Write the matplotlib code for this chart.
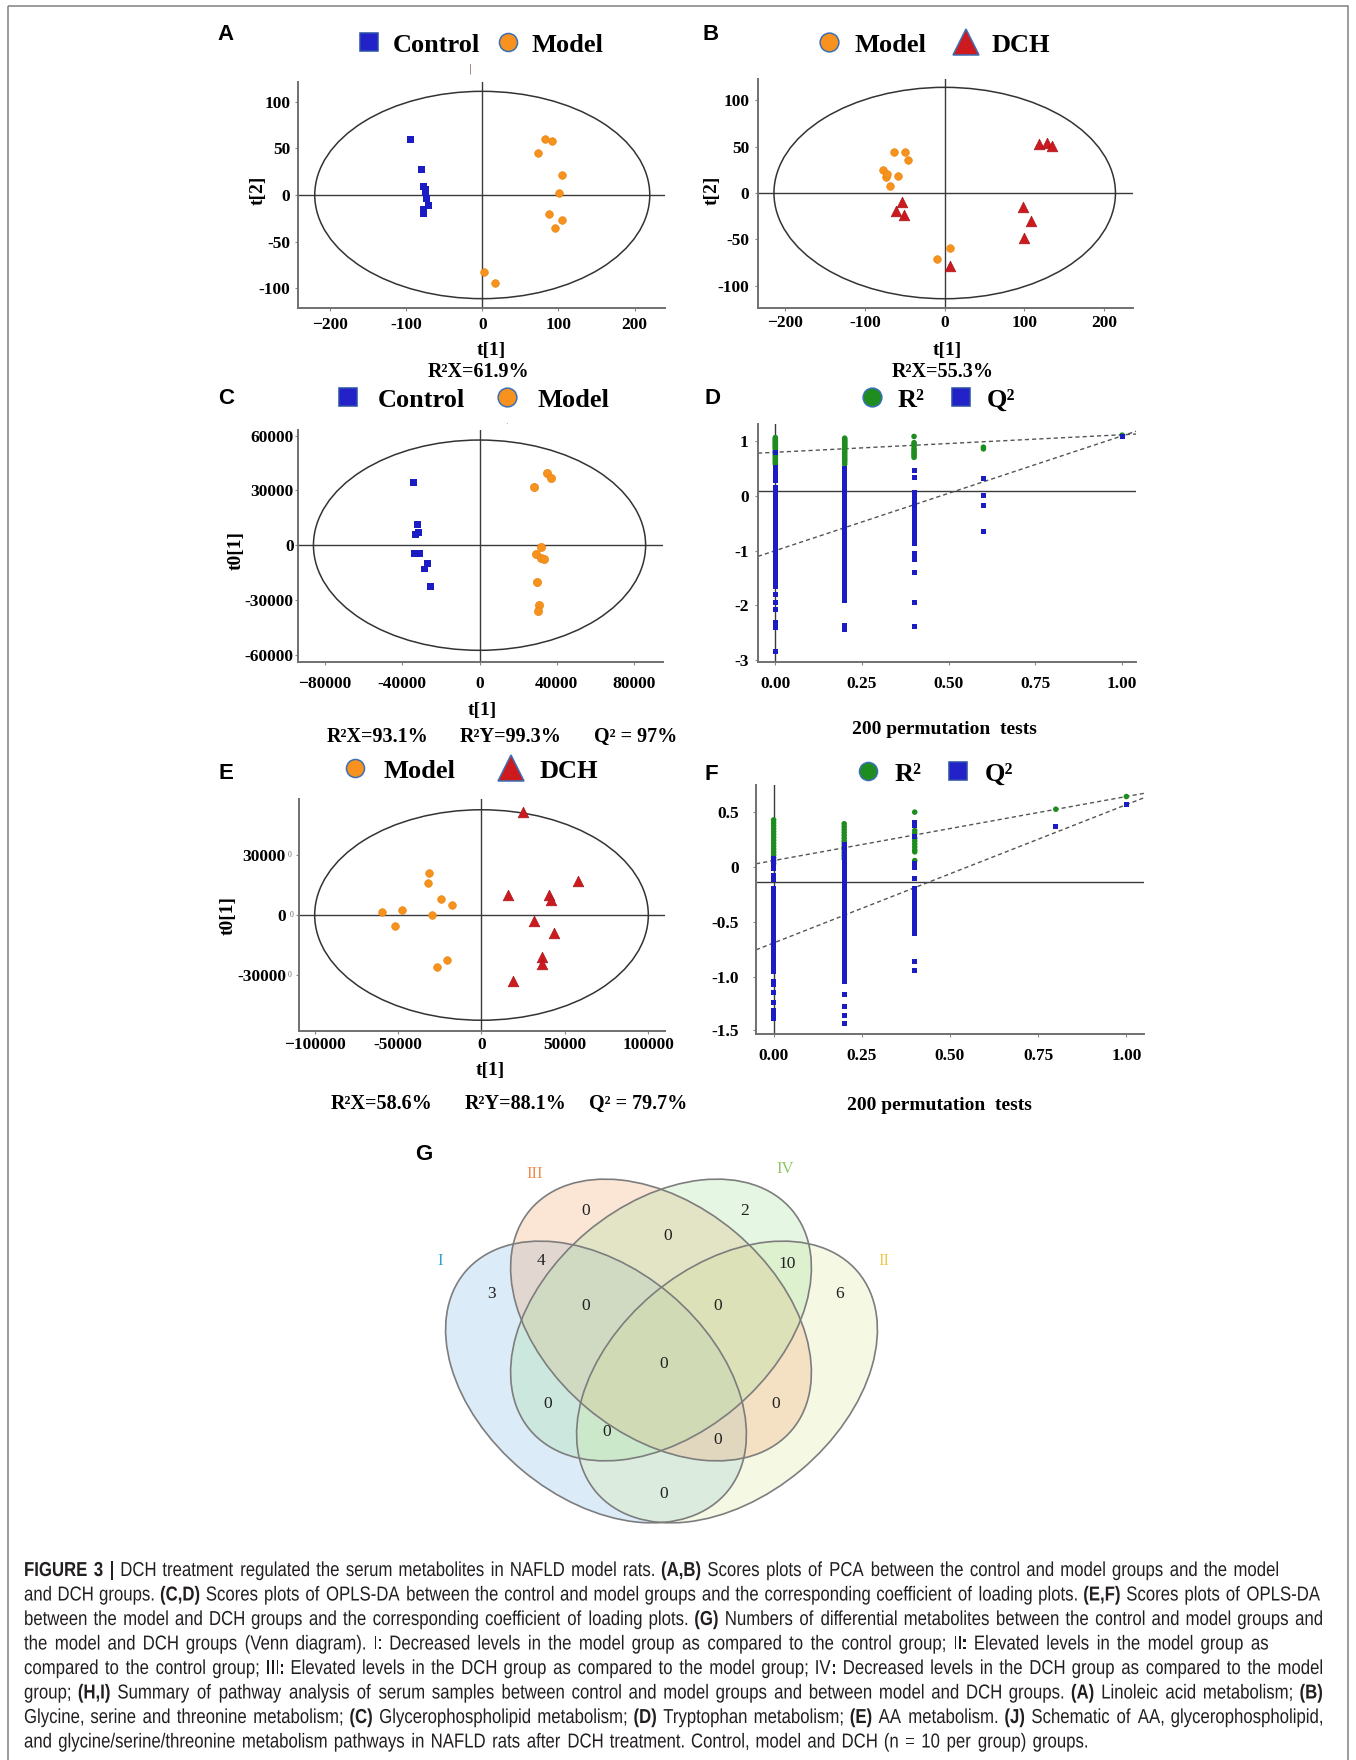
import matplotlib
matplotlib.use("Agg")
import matplotlib.pyplot as plt
from matplotlib.patches import Ellipse, Rectangle, PathPatch
from matplotlib.lines import Line2D
from matplotlib.textpath import TextPath
from matplotlib.font_manager import FontProperties
from matplotlib.transforms import Affine2D
import numpy as np

W, H = 1356, 1760
SERIF = "Liberation Serif"
SANS = "Liberation Sans"

BLUE = "#1c1cc4"
ORANGE = "#f7921e"
RED = "#cc1a1f"
GREEN = "#1e8c1e"

# ---------------- data ----------------
# (A) PCA, control vs model
a_ctrl_x = [-94, -80, -77, -75, -74, -73, -71, -77, -77, -75]
a_ctrl_y = [59, 27, 9, 6, 1, -4, -11, -15, -20, 3]
a_model_x = [82, 92, 73, 105, 101, 87, 105, 96, 2, 17]
a_model_y = [60, 58, 45, 21, 2.5, -20, -27, -35, -82, -94]

# (B) PCA, model vs DCH
b_model_x = [-64, -50, -46, -77, -74, -72, -59, -69, 7, -10]
b_model_y = [44, 44, 36, 25, 17, 20, 18, 8, -59, -71]
b_dch_x = [118, 128, 134, 98, 108, 100, -53, -61, -51, 7]
b_dch_y = [53, 54, 51, -15, -30, -49, -10, -19, -24, -79]

# (C) OPLS-DA, control vs model
c_ctrl_x = [-34400, -32200, -31500, -33200, -33500, -31000, -27000, -28700, -25300, -32300]
c_ctrl_y = [34400, 11500, 6800, 6000, -4600, -4600, -10000, -13000, -22700, -4600]
c_model_x = [34900, 37000, 28000, 31800, 29200, 31800, 33500, 29600, 30600, 30300]
c_model_y = [39300, 36800, 32000, -900, -4800, -7000, -7300, -20100, -32600, -35900]

# (E) OPLS-DA, model vs DCH
e_model_x = [-31400, -32000, -24200, -17600, -47400, -59800, -29400, -51600, -20600, -26600]
e_model_y = [21300, 16000, 7800, 5000, 2700, 1300, 200, -5300, -22700, -26000]
e_dch_x = [25000, 58000, 15600, 40400, 41400, 31600, 43200, 36000, 36000, 19000]
e_dch_y = [51800, 17300, 10200, 10200, 7700, -3200, -9000, -21000, -24700, -33200]

# Hotelling T2 ellipse half axes
a_ell = (220, 111)
b_ell = (214, 114)
c_ell = (86000, 57600)
e_ell = (100000, 52800)

# (D) permutation test, control vs model
d_cols = [0.0, 0.2, 0.4, 0.6, 1.0]
d_r2 = [
    [0.95, 0.93, 0.91, 0.89, 0.87, 0.85, 0.83, 0.81, 0.79, 0.77, 0.75, 0.72, 0.69, 0.66,
     0.63, 0.6, 0.57, 0.54, 0.51, 0.48],
    [0.94, 0.92, 0.9, 0.88, 0.86, 0.84, 0.82, 0.8, 0.78, 0.76, 0.73, 0.7, 0.67, 0.64,
     0.61, 0.58, 0.55, 0.52, 0.48],
    [0.97, 0.86, 0.83, 0.8, 0.75, 0.72, 0.69, 0.66, 0.63, 0.6],
    [0.78, 0.75],
    [0.993],
]
d_q2 = [
    [0.69, 0.42, 0.38, 0.34, 0.26, 0.22, 0.19, 0.06, 0.02, -0.03, -0.08, -0.13, -0.17, -0.22,
     -0.27, -0.31, -0.36, -0.41, -0.45, -0.5, -0.55, -0.6, -0.64, -0.69, -0.74, -0.78, -0.83,
     -0.88, -0.93, -0.97, -1.02, -1.07, -1.11, -1.16, -1.21, -1.25, -1.3, -1.35, -1.4, -1.44,
     -1.49, -1.54, -1.58, -1.63, -1.68, -1.83, -1.97, -2.09, -2.33, -2.37, -2.41, -2.83],
    [0.41, 0.37, 0.33, 0.28, 0.24, 0.19, 0.15, 0.1, 0.06, 0.01, -0.04, -0.09, -0.13, -0.18,
     -0.23, -0.27, -0.32, -0.37, -0.41, -0.46, -0.51, -0.55, -0.6, -0.65, -0.69, -0.74, -0.79,
     -0.83, -0.88, -0.93, -0.97, -1.02, -1.07, -1.11, -1.16, -1.21, -1.25, -1.3, -1.35, -1.39,
     -1.44, -1.49, -1.53, -1.58, -1.63, -1.67, -1.72, -1.77, -1.81, -1.86, -1.9, -1.93, -2.38, -2.44],
    [0.37, 0.25, -0.02, -0.06, -0.12, -0.19, -0.25, -0.3, -0.36, -0.41, -0.45, -0.5, -0.55,
     -0.61, -0.66, -0.71, -0.76, -0.82, -0.87, -0.93, -1.1, -1.15, -1.21, -1.43, -1.97, -2.4],
    [0.22, -0.08, -0.25, -0.71],
    [0.97],
]
d_r2_line = (0.69, 1.0)    # intercept, value at 1.0
d_q2_line = (-1.05, 0.98)

# (F) permutation test, model vs DCH
f_cols = [0.0, 0.2, 0.4, 0.8, 1.0]
f_r2 = [
    [0.64, 0.61, 0.58, 0.55, 0.52, 0.49, 0.46, 0.43, 0.4, 0.37, 0.34, 0.31, 0.28, 0.25, 0.22, 0.19],
    [0.6, 0.57, 0.54, 0.51, 0.48, 0.45, 0.42, 0.39, 0.36, 0.33, 0.3, 0.27, 0.24],
    [0.72, 0.53, 0.5, 0.45, 0.42, 0.39, 0.36, 0.33, 0.31, 0.22],
    [0.75],
    [0.881],
]
f_q2 = [
    [0.24, 0.21, 0.18, 0.14, 0.07, 0.04, 0.02, -0.07, -0.1, -0.13, -0.17, -0.2, -0.24, -0.27,
     -0.31, -0.34, -0.38, -0.41, -0.45, -0.48, -0.52, -0.55, -0.59, -0.62, -0.66, -0.69, -0.73,
     -0.76, -0.8, -0.83, -0.87, -0.9, -0.93, -1.03, -1.06, -1.14, -1.24, -1.33, -1.37, -1.41],
    [0.39, 0.36, 0.32, 0.29, 0.25, 0.22, 0.18, 0.15, 0.11, 0.08, 0.04, 0.01, -0.03, -0.06,
     -0.1, -0.13, -0.17, -0.2, -0.24, -0.27, -0.31, -0.34, -0.38, -0.41, -0.45, -0.48, -0.52,
     -0.55, -0.59, -0.62, -0.66, -0.69, -0.73, -0.76, -0.8, -0.83, -0.87, -0.9, -0.94, -0.97,
     -1.01, -1.03, -1.16, -1.29, -1.38, -1.46],
    [0.61, 0.58, 0.47, 0.19, 0.15, 0.03, -0.07, -0.11, -0.14, -0.18, -0.21, -0.25, -0.28,
     -0.31, -0.34, -0.38, -0.41, -0.45, -0.48, -0.53, -0.82, -0.91],
    [0.57],
    [0.797],
]
f_r2_line = (0.22, 0.881)
f_q2_line = (-0.63, 0.797)

# tick labels
pca_xt = [-200, -100, 0, 100, 200]
pca_xtl = ["\u2212200", "-100", "0", "100", "200"]
pca_yt = [100, 50, 0, -50, -100]
pca_ytl = ["100", "50", "0", "-50", "-100"]
c_xt = [-80000, -40000, 0, 40000, 80000]
c_xtl = ["\u221280000", "-40000", "0", "40000", "80000"]
c_yt = [60000, 30000, 0, -30000, -60000]
c_ytl = ["60000", "30000", "0", "-30000", "-60000"]
e_xt = [-100000, -50000, 0, 50000, 100000]
e_xtl = ["\u2212100000", "-50000", "0", "50000", "100000"]
e_yt = [30000, 0, -30000]
e_ytl = ["30000", "0", "-30000"]
perm_xt = [0, 0.25, 0.5, 0.75, 1.0]
perm_xtl = ["0.00", "0.25", "0.50", "0.75", "1.00"]
d_yt = [0.89, -0.08, -1.05, -2.02, -2.99]
d_ytl = ["1", "0", "-1", "-2", "-3"]
f_yt = [0.72, 0.155, -0.41, -0.98, -1.53]
f_ytl = ["0.5", "0", "-0.5", "-1.0", "-1.5"]

# (G) Venn diagram
venn_sets = ["I", "II", "III", "IV"]
venn_fill = ["#8ac0e8", "#deeba5", "#f2a976", "#aae4a2"]
venn_text_col = ["#29a3c9", "#f0c848", "#ef8a48", "#8cc665"]
venn_counts = [3, 4, 0, 0, 2, 10, 6, 0, 0, 0, 0, 0, 0, 0, 0]

# caption
cap_lines = [
    [("FIGURE 3 |", "b"), (" DCH treatment regulated the serum metabolites in NAFLD model rats. ", "n"),
     ("(A,B)", "b"), (" Scores plots of PCA between the control and model groups and the model", "n")],
    [("and DCH groups. ", "n"), ("(C,D)", "b"),
     (" Scores plots of OPLS-DA between the control and model groups and the corresponding coefficient of loading plots. ", "n"),
     ("(E,F)", "b"), (" Scores plots of OPLS-DA", "n")],
    [("between the model and DCH groups and the corresponding coefficient of loading plots. ", "n"),
     ("(G)", "b"), (" Numbers of differential metabolites between the control and model groups and", "n")],
    [("the model and DCH groups (Venn diagram). I: Decreased levels in the model group as compared to the control group; II", "n"),
     (":", "b"), (" Elevated levels in the model group as", "n")],
    [("compared to the control group; III", "n"), (":", "b"),
     (" Elevated levels in the DCH group as compared to the model group; IV", "n"), (":", "b"),
     (" Decreased levels in the DCH group as compared to the model", "n")],
    [("group; ", "n"), ("(H,I)", "b"),
     (" Summary of pathway analysis of serum samples between control and model groups and between model and DCH groups. ", "n"),
     ("(A)", "b"), (" Linoleic acid metabolism; ", "n"), ("(B)", "b")],
    [("Glycine, serine and threonine metabolism; ", "n"), ("(C)", "b"), (" Glycerophospholipid metabolism; ", "n"),
     ("(D)", "b"), (" Tryptophan metabolism; ", "n"), ("(E)", "b"), (" AA metabolism. ", "n"), ("(J)", "b"),
     (" Schematic of AA, glycerophospholipid,", "n")],
    [("and glycine/serine/threonine metabolism pathways in NAFLD rats after DCH treatment. Control, model and DCH (n = 10 per group) groups.", "n")],
]
cap_right = [1278, 1320, 1322, 1268, 1322, 1322, 1322, 1087]


# ---------------- helpers ----------------
def box(l, t, r, b):
    return [l / W, 1 - b / H, (r - l) / W, (b - t) / H]


def fx(x):
    return x / W


def fy(y):
    return 1 - y / H


def frame(ax, xt, xtl, yt, ytl, xpad, ypad):
    for s in ("top", "right"):
        ax.spines[s].set_visible(False)
    for s in ("left", "bottom"):
        ax.spines[s].set_color("#707070")
        ax.spines[s].set_linewidth(1.4)
    tk = dict(fontfamily=SERIF, fontweight="bold", fontsize=12.5)
    ax.set_xticks(xt, xtl, **tk)
    ax.set_yticks(yt, ytl, **tk)
    ax.tick_params(axis="both", length=2.5, width=0.8, color="#888888")
    ax.tick_params(axis="x", pad=xpad)
    ax.tick_params(axis="y", pad=ypad)


def score_panel(rect, xlim, ylim, ell, xt, xtl, yt, ytl, xpad, ypad):
    ax = fig.add_axes(box(*rect))
    ax.set_xlim(xlim)
    ax.set_ylim(ylim)
    ax.axhline(0, color="#3a3a3a", lw=1.0, zorder=1)
    ax.axvline(0, color="#3a3a3a", lw=1.0, zorder=1)
    ax.add_patch(Ellipse((0, 0), 2 * ell[0], 2 * ell[1], fill=False, ec="#333333", lw=1.1, zorder=1))
    frame(ax, xt, xtl, yt, ytl, xpad, ypad)
    return ax


def perm_panel(rect, xlim, ylim, cols, r2, q2, r2_line, q2_line, yt, ytl, xpad, ypad):
    ax = fig.add_axes(box(*rect))
    ax.set_xlim(xlim)
    ax.set_ylim(ylim)
    ax.axhline(0, color="#3a3a3a", lw=1.0, zorder=1)
    ax.axvline(0, color="#3a3a3a", lw=1.0, zorder=1)
    xs = np.array(xlim)
    for b0, b1 in (r2_line, q2_line):
        ax.plot(xs, b0 + (b1 - b0) * xs, ls=(0, (3, 2.2)), color="#555555", lw=1.0, zorder=2)
    for x, vals in zip(cols, r2):
        ax.scatter([x] * len(vals), vals, s=16, marker="o", c=GREEN, ec="none", zorder=3)
    for x, vals in zip(cols, q2):
        ax.scatter([x] * len(vals), vals, s=13, marker="s", c=BLUE, ec="none", zorder=4)
    frame(ax, perm_xt, perm_xtl, yt, ytl, xpad, ypad)
    return ax


def legend(ax, items, cx, cy, colsp, tpad):
    handles = [Line2D([], [], ls="none", marker=m, ms=ms, mfc=c, mec=ec, mew=1.1)
               for m, ms, c, ec, lab in items]
    ax.legend(handles, [it[-1] for it in items], loc="center",
              bbox_to_anchor=(fx(cx), fy(cy)), bbox_transform=fig.transFigure,
              ncol=len(items), frameon=False, handlelength=1.0, handletextpad=tpad,
              columnspacing=colsp, borderpad=0, borderaxespad=0,
              prop=dict(family=SERIF, weight="bold", size=19))


def label(x, y, s, size=14, rot=0, **kw):
    fig.text(fx(x), fy(y), s, ha="center", va="center", rotation=rot,
             fontfamily=SERIF, fontweight="bold", fontsize=size, **kw)


def letter(x, y, s):
    fig.text(fx(x), fy(y), s, ha="center", va="center", fontfamily=SANS,
             fontweight="bold", fontsize=16)


def tokenize(segs):
    words = [[]]
    for txt, st in segs:
        for i, part in enumerate(txt.split(" ")):
            if i > 0:
                words.append([])
            if part:
                words[-1].append((part, st))
    return [w for w in words if w]


# caption drawn as horizontally squeezed glyph outlines (condensed face)
CAP_EM = 20.2
CAP_SX = 0.83
cap_props = {"n": FontProperties(family=SANS), "b": FontProperties(family=SANS, weight="bold")}


def caption_line(segs, x0, x1, y):
    rows = []
    for w in tokenize(segs):
        row = []
        for txt, st in w:
            p = TextPath((0, 0), txt, size=CAP_EM, prop=cap_props[st])
            e = p.get_extents()
            row.append((p, e.x0 + e.width))
        rows.append(row)
    raw = [sum(adv for _, adv in row) + 1.0 * (len(row) - 1) for row in rows]
    sx = CAP_SX
    natural = sum(raw) * sx + 0.22 * CAP_EM * sx * (len(rows) - 1)
    if natural > x1 - x0:
        sx = sx * (x1 - x0) / natural
    gap = (x1 - x0 - sum(raw) * sx) / max(len(rows) - 1, 1)
    x = x0
    for row, rw in zip(rows, raw):
        xx = x
        for p, adv in row:
            tr = Affine2D().scale(sx, -1).translate(xx, y) + over.transData
            over.add_patch(PathPatch(p, transform=tr, fc="#231f20", ec="none", lw=0))
            xx += (adv + 1.0) * sx
        x += rw * sx + gap


# ---------------- figure ----------------
fig = plt.figure(figsize=(W / 100, H / 100), dpi=100)

over = fig.add_axes([0, 0, 1, 1])
over.set_xlim(0, W)
over.set_ylim(H, 0)
over.axis("off")
over.add_patch(Rectangle((8, 6), W - 16, H + 20, fill=False, ec="#8a8a8a", lw=1.2))

# ---- A ----
ax = score_panel((298, 82, 665, 308), (-242, 240), (-121, 121), a_ell,
                 pca_xt, pca_xtl, pca_yt, pca_ytl, 4, 3)
ax.scatter(a_ctrl_x, a_ctrl_y, s=24, marker="s", c=BLUE, ec="none", zorder=3)
ax.scatter(a_model_x, a_model_y, s=30, marker="o", c=ORANGE, ec="#e8860f", lw=0.5, zorder=3)
legend(ax, [("s", 12.5, "#2222c8", "#2a4fa8", "Control"), ("o", 13, ORANGE, "#3b6fb6", "Model")],
       480, 45, 0.55, 0.4)
letter(226, 35, "A")
label(491, 350, "t[1]")
label(479, 372, "R\u00b2X=61.9%", 14.5)
label(258, 190, "t[2]", rot=90)
fig.text(fx(470), fy(69), "|", ha="center", va="center", fontsize=7, color="#8a6a60")

# ---- B ----
ax = score_panel((758, 79, 1133, 308), (-234, 236), (-124, 123), b_ell,
                 pca_xt, pca_xtl, pca_yt, pca_ytl, 2.6, 3.8)
ax.scatter(b_model_x, b_model_y, s=30, marker="o", c=ORANGE, ec="#e8860f", lw=0.5, zorder=3)
ax.scatter(b_dch_x, b_dch_y, s=58, marker="^", c=RED, ec="#a81418", lw=0.5, zorder=3)
legend(ax, [("o", 13.5, ORANGE, "#3b6fb6", "Model"), ("^", 19, RED, "#3b6fb6", "DCH")],
       933, 45, 1.0, 0.45)
letter(711, 34, "B")
label(947, 350, "t[1]")
label(943, 372, "R\u00b2X=55.3%", 14.5)
label(712, 190, "t[2]", rot=90)

# ---- C ----
ax = score_panel((298, 430, 663, 662), (-94000, 95000), (-64000, 63100), c_ell,
                 c_xt, c_xtl, c_yt, c_ytl, 7.6, 0.6)
ax.scatter(c_ctrl_x, c_ctrl_y, s=24, marker="s", c=BLUE, ec="none", zorder=3)
ax.scatter(c_model_x, c_model_y, s=34, marker="o", c=ORANGE, ec="#e8860f", lw=0.5, zorder=3)
legend(ax, [("s", 12.5, "#2222c8", "#2a4fa8", "Control"), ("o", 13.5, ORANGE, "#3b6fb6", "Model")],
       472, 400, 1.1, 0.65)
letter(226, 399, "C")
label(482, 710, "t[1]")
label(236, 550, "t0[1]", rot=90)
label(378, 737, "R\u00b2X=93.1%", 14.5)
label(511, 737, "R\u00b2Y=99.3%", 14.5)
label(636, 737, "Q\u00b2 = 97%", 14.5)
fig.text(fx(506), fy(421), ".", ha="center", va="center", fontsize=6, color="#777777")

# ---- D ----
ax = perm_panel((758, 424, 1136, 662), (-0.05, 1.04), (-3.02, 1.19), d_cols, d_r2, d_q2,
                d_r2_line, d_q2_line, d_yt, d_ytl, 7.6, 4.2)
legend(ax, [("o", 13.5, GREEN, "#3b6fb6", "R\u00b2"), ("s", 12.5, "#2222c8", "#2a4fa8", "Q\u00b2")],
       937, 400, 0.9, 0.45)
letter(713, 399, "D")
label(944, 729, "200 permutation  tests")

# ---- E ----
ax = score_panel((299, 799, 665, 1031), (-109400, 110000), (-58200, 58200), e_ell,
                 e_xt, e_xtl, e_yt, e_ytl, 1.8, 6.9)
ax.scatter(e_model_x, e_model_y, s=30, marker="o", c=ORANGE, ec="#e8860f", lw=0.5, zorder=3)
ax.scatter(e_dch_x, e_dch_y, s=58, marker="^", c=RED, ec="#a81418", lw=0.5, zorder=3)
legend(ax, [("o", 13, ORANGE, "#3b6fb6", "Model"), ("^", 19, RED, "#3b6fb6", "DCH")],
       470, 771, 1.6, 0.6)
letter(226, 773, "E")
label(490, 1070, "t[1]")
label(228, 915, "t0[1]", rot=90)
for yy in (855, 975):
    fig.text(fx(290), fy(yy), "0", ha="center", va="center", fontsize=5.5, color="#666666", fontfamily=SERIF)
fig.text(fx(292), fy(915), "0", ha="center", va="center", fontsize=5.5, color="#666666", fontfamily=SERIF)
label(382, 1104, "R\u00b2X=58.6%", 14.5)
label(516, 1104, "R\u00b2Y=88.1%", 14.5)
label(638, 1104, "Q\u00b2 = 79.7%", 14.5)

# ---- F ----
ax = perm_panel((756, 785, 1144, 1034), (-0.05, 1.05), (-1.57, 1.0), f_cols, f_r2, f_q2,
                f_r2_line, f_q2_line, f_yt, f_ytl, 7.6, 9.7)
legend(ax, [("o", 13, GREEN, "#3b6fb6", "R\u00b2"), ("s", 12.5, "#2222c8", "#2a4fa8", "Q\u00b2")],
       934, 774, 0.9, 0.5)
letter(711, 774, "F")
label(939, 1105, "200 permutation  tests")

# ---- G (Venn) ----
venn_geom = {
    "I": ((596, 1382), 40),
    "II": ((727, 1382), -40),
    "III": ((661, 1320), 40),
    "IV": ((661, 1320), -40),
}
venn_axes = (171, 115)
venn_label_xy = [(440, 1261), (884, 1261), (535, 1174), (785, 1169)]
venn_count_xy = [(492, 1294), (541, 1261), (586, 1211), (668, 1236), (745, 1211),
                 (787, 1264), (840, 1294), (586, 1306), (718, 1306), (664, 1364),
                 (548, 1404), (776, 1404), (607, 1432), (718, 1440), (664, 1494)]
for name, col in zip(venn_sets, venn_fill):
    (cx, cy), ang = venn_geom[name]
    over.add_patch(Ellipse((cx, cy), 2 * venn_axes[0], 2 * venn_axes[1], angle=ang,
                           fc=col, ec="none", alpha=0.3))
for name in venn_sets:
    (cx, cy), ang = venn_geom[name]
    over.add_patch(Ellipse((cx, cy), 2 * venn_axes[0], 2 * venn_axes[1], angle=ang,
                           fill=False, ec="#7d7d7d", lw=1.2))
for name, col, (lx, ly) in zip(venn_sets, venn_text_col, venn_label_xy):
    over.text(lx, ly, name, ha="center", va="center", color=col, fontfamily=SERIF, fontsize=12)
for n, (tx, ty) in zip(venn_counts, venn_count_xy):
    over.text(tx, ty, str(n), ha="center", va="center", color="#222222", fontfamily=SERIF, fontsize=12.5)
letter(424, 1154, "G")

# ---- caption ----
for i, (segs, xr) in enumerate(zip(cap_lines, cap_right)):
    caption_line(segs, 24, xr, 1576 + 24.5 * i)

fig.savefig("out.png", dpi=100)
